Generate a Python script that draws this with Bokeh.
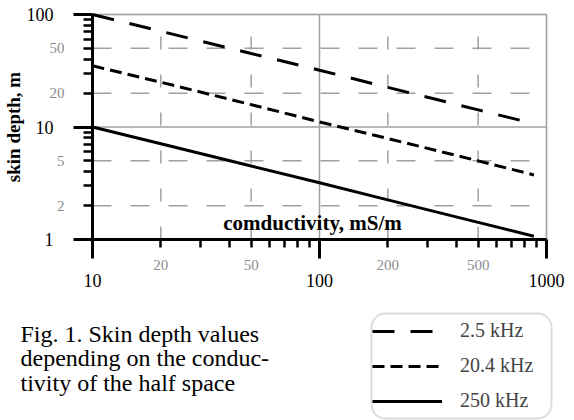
from bokeh.plotting import figure
from bokeh.models import (Range1d, FixedTicker, Label, LabelSet,
                          ColumnDataSource, Legend, LegendItem, BoxAnnotation)
from bokeh.embed import file_html
from bokeh.resources import INLINE

# ---------------- data ----------------
conductivity = [10, 20, 50, 100, 200, 500, 880]           # mS/m
depth_2_5kHz = [100, 71, 45, 32, 22.5, 14.2, 10.7]         # m
depth_20_4kHz = [35, 25, 15.8, 11.1, 7.9, 5.0, 3.75]       # m
depth_250kHz = [10, 7.1, 4.5, 3.2, 2.25, 1.42, 1.07]       # m
series_names = ["2.5 kHz", "20.4 kHz", "250 kHz"]

x_major_ticks = [10, 100, 1000]
x_minor_ticks = [20, 30, 40, 50, 60, 70, 80, 90, 200, 300, 400, 500, 600, 700, 800, 900]
x_minor_labels = [20, 50, 200, 500]
y_major_ticks = [1, 10, 100]
y_minor_ticks = [2, 3, 4, 5, 6, 7, 8, 9, 20, 30, 40, 50, 60, 70, 80, 90]
y_minor_labels = [2, 5, 20, 50]
caption_lines = ["Fig. 1. Skin depth values",
                 "depending on the conduc-",
                 "tivity of the half space"]

# ---------------- layout helpers (pixel -> data) ----------------
W, H = 574, 420
FL, FR, FT, FB = 92, 546, 14, 239          # plot box in pixels
XMIN, XMAX = x_major_ticks[0], x_major_ticks[-1]
YMIN, YMAX = y_major_ticks[0], y_major_ticks[-1]


def dx(px):
    return 10 ** (1 + 2 * (px - FL) / (FR - FL))


def dy(py):
    return 10 ** (2 * (FB - py) / (FB - FT))


SERIF = "Liberation Serif"
SANS = "Liberation Sans"
GRAY = "#a0a0a0"
LABEL_GRAY = "#8c8c8c"

p = figure(width=W, height=H, x_axis_type="log", y_axis_type="log",
           x_range=Range1d(dx(0), dx(W)), y_range=Range1d(dy(H), dy(0)),
           output_backend="svg", toolbar_location=None,
           min_border=0, min_border_left=0, min_border_right=0,
           min_border_top=0, min_border_bottom=0)
p.outline_line_color = None
p.background_fill_color = "white"
p.border_fill_color = "white"
p.xgrid.visible = False
p.ygrid.visible = False

# plot box (gray frame)
p.add_layout(BoxAnnotation(left=XMIN, right=XMAX, bottom=YMIN, top=YMAX,
                           fill_alpha=0, line_color=GRAY, line_width=1.5,
                           level="underlay"))

# grid lines
p.segment(x0=x_major_ticks, y0=[YMIN] * 3, x1=x_major_ticks, y1=[YMAX] * 3,
          line_color=GRAY, line_width=1.5)
p.segment(x0=[XMIN] * 3, y0=y_major_ticks, x1=[XMAX] * 3, y1=y_major_ticks,
          line_color=GRAY, line_width=1.5)
p.segment(x0=x_minor_labels, y0=[YMIN] * 4, x1=x_minor_labels, y1=[YMAX] * 4,
          line_color=GRAY, line_width=1.5, line_dash="13 25")
p.segment(x0=[XMIN] * 4, y0=y_minor_labels, x1=[XMAX] * 4, y1=y_minor_labels,
          line_color=GRAY, line_width=1.5, line_dash="19 19")

# axes (drawn at the plot box edges)
xaxis = p.xaxis[0]
xaxis.fixed_location = YMIN
xaxis.bounds = (XMIN, XMAX)
xaxis.ticker = FixedTicker(ticks=x_major_ticks, minor_ticks=x_minor_ticks)
xaxis.axis_line_width = 3
xaxis.axis_line_color = "black"
xaxis.major_tick_out = 19
xaxis.major_tick_in = 0
xaxis.major_tick_line_width = 3
xaxis.minor_tick_out = 8
xaxis.minor_tick_in = 0
xaxis.minor_tick_line_width = 2.5
xaxis.major_label_text_font = SERIF
xaxis.major_label_text_font_size = "18px"
xaxis.major_label_text_color = "black"
xaxis.major_label_standoff = 15
xaxis.major_label_overrides = {10: "10", 100: "100", 1000: "1000"}

yaxis = p.yaxis[0]
yaxis.fixed_location = XMIN
yaxis.bounds = (YMIN, YMAX)
yaxis.ticker = FixedTicker(ticks=y_major_ticks, minor_ticks=y_minor_ticks)
yaxis.axis_line_width = 3
yaxis.axis_line_color = "black"
yaxis.major_tick_out = 19
yaxis.major_tick_in = 0
yaxis.major_tick_line_width = 3
yaxis.minor_tick_out = 9
yaxis.minor_tick_in = 0
yaxis.minor_tick_line_width = 2.5
yaxis.major_label_text_font = SERIF
yaxis.major_label_text_font_size = "18px"
yaxis.major_label_text_color = "black"
yaxis.major_label_standoff = 20
yaxis.major_label_overrides = {1: "1", 10: "10", 100: "100"}
yaxis.axis_label = "skin depth, m"
yaxis.axis_label_text_font = SERIF
yaxis.axis_label_text_font_style = "bold"
yaxis.axis_label_text_font_size = "19px"
yaxis.axis_label_text_color = "black"
yaxis.axis_label_standoff = 0

# gray minor labels
xl_src = ColumnDataSource(dict(x=x_minor_labels, y=[dy(264)] * len(x_minor_labels),
                               t=[str(v) for v in x_minor_labels]))
p.add_layout(LabelSet(x="x", y="y", text="t", source=xl_src, text_align="center",
                      text_baseline="middle", text_font=SANS, text_font_size="15px",
                      text_color=LABEL_GRAY))
yl_src = ColumnDataSource(dict(x=[dx(64)] * len(y_minor_labels), y=y_minor_labels,
                               t=[str(v) for v in y_minor_labels]))
p.add_layout(LabelSet(x="x", y="y", text="t", source=yl_src, text_align="right",
                      text_baseline="middle", text_font=SANS, text_font_size="15px",
                      text_color=LABEL_GRAY))

# series
src = ColumnDataSource(dict(x=conductivity, a=depth_2_5kHz, b=depth_20_4kHz, c=depth_250kHz))
r1 = p.line("x", "a", source=src, line_color="black", line_width=3, line_dash="22 16")
r2 = p.line("x", "b", source=src, line_color="black", line_width=3, line_dash="12 6")
r3 = p.line("x", "c", source=src, line_color="black", line_width=3)

# x axis title inside the plot
p.add_layout(Label(x=dx(312), y=dy(222), text="comductivity, mS/m", text_font=SERIF,
                   text_font_style="bold", text_font_size="21px", text_align="center",
                   text_baseline="middle", text_color="black"))

# caption
for i, line in enumerate(caption_lines):
    p.add_layout(Label(x=dx(20), y=dy(333 + 24.5 * i), text=line, text_font=SERIF,
                       text_font_size="24px", text_align="left",
                       text_baseline="alphabetic", text_color="black"))

# legend with rounded frame
p.add_layout(BoxAnnotation(left=dx(371), right=dx(551), top=dy(313), bottom=dy(418),
                           fill_alpha=0, line_color="#8a8a8a", line_width=2,
                           border_radius=14, level="overlay"))
legend = Legend(items=[LegendItem(label=n, renderers=[r])
                       for n, r in zip(series_names, [r1, r2, r3])],
                location=(372, 8),
                border_line_color=None, background_fill_alpha=0,
                padding=10, spacing=12, margin=0,
                glyph_width=70, glyph_height=20, label_height=20,
                label_standoff=18,
                label_text_font=SERIF, label_text_font_size="20px")
p.add_layout(legend, "center")

open("out.html", "w").write(file_html(p, INLINE))
